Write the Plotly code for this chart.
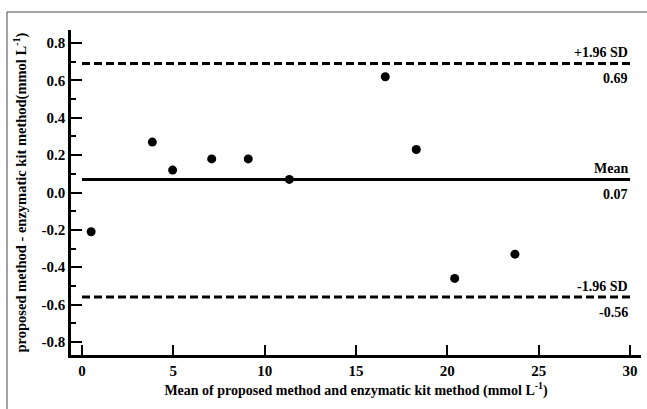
import plotly.graph_objects as go

# Bland-Altman data: mean of the two methods vs. their difference (mmol/L)
mean_vals = [0.5, 3.85, 4.96, 7.1, 9.1, 11.35, 16.6, 18.3, 20.4, 23.7]
diff_vals = [-0.21, 0.27, 0.12, 0.18, 0.18, 0.07, 0.62, 0.23, -0.46, -0.33]

bias = 0.07
upper_loa = 0.69
lower_loa = -0.56
line_x = [0, 30]

y_ticks = [-0.8, -0.6, -0.4, -0.2, 0.0, 0.2, 0.4, 0.6, 0.8]
y_tick_text = ["-0.8", "-0.6", "-0.4", "-0.2", "0.0", "0.2", "0.4", "0.6", "0.8"]
x_ticks = [0, 5, 10, 15, 20, 25, 30]

FONT = "Times New Roman, Liberation Serif, serif"
SIZE = 14

fig = go.Figure()

# limits of agreement and mean difference
for yv, dash in [(upper_loa, "8px,4px"), (bias, "solid"), (lower_loa, "8px,4px")]:
    fig.add_trace(go.Scatter(
        x=line_x, y=[yv, yv], mode="lines",
        line=dict(color="black", width=3, dash=dash),
        hoverinfo="skip", showlegend=False,
    ))

fig.add_trace(go.Scatter(
    x=mean_vals, y=diff_vals, mode="markers",
    marker=dict(color="black", size=9),
    showlegend=False,
))

labels = [
    (upper_loa, "+1.96 SD", f"{upper_loa:.2f}"),
    (bias, "Mean", f"{bias:.2f}"),
    (lower_loa, "-1.96 SD", f"{lower_loa:.2f}"),
]
for yv, above, below in labels:
    fig.add_annotation(x=30, y=yv, text=f"<b>{above}</b>", showarrow=False,
                       xanchor="right", yanchor="middle", yshift=11,
                       font=dict(family=FONT, size=SIZE, color="black"))
    fig.add_annotation(x=30, y=yv, text=f"<b>{below}</b>", showarrow=False,
                       xanchor="right", yanchor="middle", yshift=-15,
                       font=dict(family=FONT, size=SIZE, color="black"))

# outer frame (top and left edges)
fig.add_shape(type="line", xref="paper", yref="paper",
              x0=-0.1123, x1=1.2, y0=1.0554, y1=1.0554,
              line=dict(color="#444", width=1))
fig.add_shape(type="line", xref="paper", yref="paper",
              x0=-0.1123, x1=-0.1123, y0=1.0554, y1=-0.3,
              line=dict(color="#444", width=1))

fig.update_layout(
    width=647, height=409,
    margin=dict(l=71, r=6, t=30, b=54),
    paper_bgcolor="white", plot_bgcolor="white",
    font=dict(family=FONT, size=SIZE, color="black"),
    xaxis=dict(
        range=[-0.602, 30.6], tickvals=x_ticks,
        ticktext=[f"<b>{v}</b>" for v in x_ticks],
        ticks="inside", ticklen=10, tickwidth=2, tickcolor="black",
        showline=True, linecolor="black", linewidth=2.5,
        showgrid=False, zeroline=False,
        tickfont=dict(family=FONT, size=15, color="black"),
        title=dict(text="<b>Mean of proposed method and enzymatic kit method (mmol L<sup>-1</sup>)</b>",
                   font=dict(family=FONT, size=SIZE, color="black"),
                   standoff=8),
    ),
    yaxis=dict(
        range=[-0.87, 0.87], tickvals=y_ticks,
        ticktext=[f"<b>{t}</b>" for t in y_tick_text],
        ticks="inside", ticklen=11, tickwidth=2, tickcolor="black",
        minor=dict(ticks="inside", ticklen=5, tickwidth=1.5, tickcolor="black",
                   tickvals=[-0.7, -0.5, -0.3, -0.1, 0.1, 0.3, 0.5, 0.7]),
        showline=True, linecolor="black", linewidth=2.5,
        showgrid=False, zeroline=False,
        tickfont=dict(family=FONT, size=15, color="black"),
        title=dict(text="<b>proposed method - enzymatic kit method(mmol L<sup>-1</sup>)</b>",
                   font=dict(family=FONT, size=14.5, color="black"),
                   standoff=12),
    ),
)

fig.write_html("out.html")
